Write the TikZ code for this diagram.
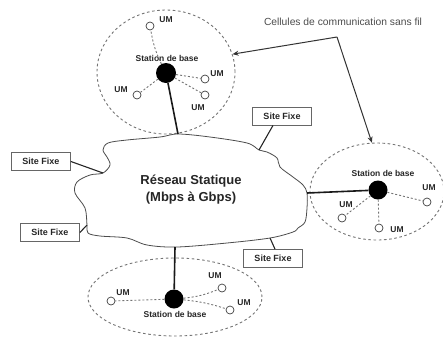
\documentclass[tikz,border=0pt]{standalone}
\usepackage{fontspec}
\setmainfont{Liberation Sans}
\usetikzlibrary{arrows.meta,shapes.geometric}
\begin{document}
\begin{tikzpicture}[x=1pt,y=-1pt,
  cell/.style={draw=black!55, dash pattern=on 2.6pt off 2.6pt, line width=0.9pt, ellipse, inner sep=0},
  bs/.style={circle, fill=black, minimum size=19pt, inner sep=0},
  um/.style={circle, draw=black!75, fill=white, minimum size=8pt, inner sep=0, line width=0.7pt},
  lbl/.style={font=\fontsize{8.5}{9}\selectfont\bfseries, text=black!85, inner sep=0},
  radio/.style={draw=black!55, dash pattern=on 2pt off 2pt, line width=0.9pt},
  link/.style={draw=black!90, line width=1.6pt},
  sitelink/.style={draw=black!85, line width=1.1pt},
  site/.style={draw=black!60, line width=0.8pt, fill=white, minimum width=59pt, minimum height=18pt, inner sep=0, font=\fontsize{9}{10}\selectfont\bfseries, text=black!85},
  arr/.style={draw=black!80, line width=1pt, -{Stealth[length=6pt,width=5pt]}}
]
\useasboundingbox (0,0) rectangle (443,338);

% cells
\node[cell, minimum width=138pt, minimum height=124pt] (c1) at (166,72) {};
\node[cell, minimum width=134pt, minimum height=97pt] (c2) at (377,191.5) {};
\node[cell, minimum width=174pt, minimum height=78pt] (c3) at (175,297) {};

% cloud
\draw[black!70, line width=0.8pt, fill=white] plot[smooth cycle, tension=0.55] coordinates {
 (103,173) (110,165) (107,157) (103,150) (108,143) (127,140) (160,137) (178,134)
 (210,137) (247,143) (259,150) (267,152) (277,158) (280,167) (293,177) (303,185)
 (307,193) (307,208) (305,222) (298,228) (293,232) (270,238) (227,243) (177,247)
 (147,245) (127,238) (100,236) (88,233) (87,225) (85,208) (75,193) (77,182) (90,175)};
\coordinate (kt) at (178,134);
\coordinate (kr) at (307,193);
\coordinate (kb) at (175,247);
\coordinate (kul) at (103,173);
\coordinate (kll) at (87,225);
\coordinate (kur) at (259,150);
\coordinate (klr) at (270,238);

\node[align=center, font=\fontsize{13}{17}\selectfont\bfseries, text=black!85] (net) at (191,190) {Réseau Statique\\(Mbps à Gbps)};

% Site Fixe boxes
\node[site] (s1) at (41,161.5) {Site Fixe};
\node[site] (s2) at (50,232.5) {Site Fixe};
\node[site] (s3) at (282,116) {Site Fixe};
\node[site] (s4) at (273,258.5) {Site Fixe};
\coordinate (s3a) at ([xshift=-9pt]s3.south);
\coordinate (s4a) at ([xshift=2pt]s4.north);
\draw[sitelink] (s1.east) -- (kul);
\draw[sitelink] (s2.east) -- (kll);
\draw[sitelink] (s3a) -- (kur);
\draw[sitelink] (s4a) -- (klr);

% top cell
\node[bs, minimum size=20pt] (b1) at (166,73) {};
\node[lbl] (b1l) at (167,58) {Station de base};
\node[um] (u11) at (150,26) {};
\node[um] (u12) at (205,79) {};
\node[um] (u13) at (205,95) {};
\node[um] (u14) at (137,95) {};
\node[lbl] (t11) at (166,20) {UM};
\node[lbl] (t12) at (217,74) {UM};
\node[lbl] (t13) at (198,108) {UM};
\node[lbl] (t14) at (121,90) {UM};
\draw[radio] (b1) to[bend left=8] (u11);
\draw[radio] (b1) -- (u12);
\draw[radio] (b1) -- (u13);
\draw[radio] (b1) -- (u14);
\draw[link] (b1) -- (kt);

% right cell
\node[bs] (b2) at (378,190) {};
\node[lbl] (b2l) at (383,173) {Station de base};
\node[um] (u21) at (427,202) {};
\node[um] (u22) at (342,218) {};
\node[um] (u23) at (379,228) {};
\node[lbl] (t21) at (429,188) {UM};
\node[lbl] (t22) at (346,205) {UM};
\node[lbl] (t23) at (397,230) {UM};
\draw[radio] (b2) -- (u21);
\draw[radio] (b2) -- (u22);
\draw[radio] (b2) -- (u23);
\draw[link] (b2) -- (kr);

% bottom cell
\node[bs] (b3) at (174,299) {};
\node[lbl] (b3l) at (175,314) {Station de base};
\node[um] (u31) at (111,301) {};
\node[um] (u32) at (222,288) {};
\node[um] (u33) at (230,310) {};
\node[lbl] (t31) at (123,293) {UM};
\node[lbl] (t32) at (215,276) {UM};
\node[lbl] (t33) at (244,303) {UM};
\draw[radio] (b3) -- (u31);
\draw[radio] (b3) to[bend right=8] (u32);
\draw[radio] (b3) to[bend left=6] (u33);
\draw[link] (b3) -- (kb);

% caption and arrows
\node[font=\fontsize{10.3}{11}\selectfont, text=black!70, inner sep=0] (cap) at (343,22) {Cellules de communication sans fil};
\coordinate (k) at (337,37);
\draw[arr] (k) -- (c1.15);
\draw[arr] (k) -- (c2.96);
\end{tikzpicture}
\end{document}
